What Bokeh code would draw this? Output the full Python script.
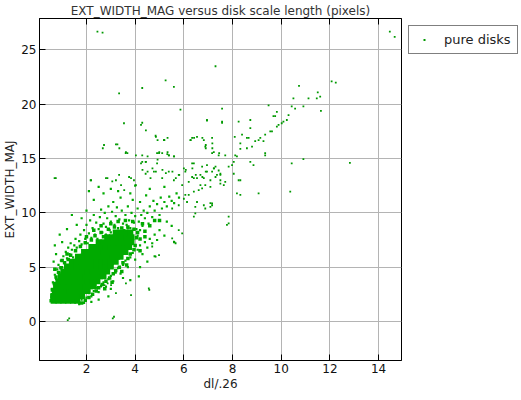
from bokeh.plotting import figure
from bokeh.models import Range1d, FixedTicker, LinearAxis, Legend, LegendItem, CustomJSTickFormatter
from bokeh.embed import file_html
from bokeh.resources import INLINE

GREEN = "#00aa00"

# dense core of the cloud
core_pts = [
    (0.65,1.9),(0.85,1.9),(1.05,1.9),(1.25,1.9),(1.45,1.9),(1.62,1.9),
    (0.65,2.35),(0.85,2.35),(1.05,2.35),(1.25,2.35),(1.45,2.35),(1.65,2.35),(1.82,2.35),
    (0.7,2.8),(0.9,2.8),(1.1,2.8),(1.3,2.8),(1.5,2.8),(1.7,2.8),(1.9,2.8),(2.05,2.8),
    (0.75,3.25),(0.95,3.25),(1.15,3.25),(1.35,3.25),(1.55,3.25),(1.75,3.25),(1.95,3.25),(2.15,3.25),(2.3,3.25),
    (0.85,3.7),(1.05,3.7),(1.25,3.7),(1.45,3.7),(1.65,3.7),(1.85,3.7),(2.05,3.7),(2.25,3.7),(2.45,3.7),
    (0.95,4.15),(1.15,4.15),(1.35,4.15),(1.55,4.15),(1.75,4.15),(1.95,4.15),(2.15,4.15),(2.35,4.15),(2.55,4.15),(2.7,4.15),
    (1.05,4.6),(1.25,4.6),(1.45,4.6),(1.65,4.6),(1.85,4.6),(2.05,4.6),(2.25,4.6),(2.45,4.6),(2.65,4.6),(2.85,4.6),
    (1.2,5.05),(1.4,5.05),(1.6,5.05),(1.8,5.05),(2.0,5.05),(2.2,5.05),(2.4,5.05),(2.6,5.05),(2.8,5.05),(3.0,5.05),
    (1.4,5.5),(1.6,5.5),(1.8,5.5),(2.0,5.5),(2.2,5.5),(2.4,5.5),(2.6,5.5),(2.8,5.5),(3.0,5.5),(3.2,5.5),
    (1.65,5.95),(1.85,5.95),(2.05,5.95),(2.25,5.95),(2.45,5.95),(2.65,5.95),(2.85,5.95),(3.05,5.95),(3.25,5.95),(3.4,5.95),
    (1.9,6.4),(2.1,6.4),(2.3,6.4),(2.5,6.4),(2.7,6.4),(2.9,6.4),(3.1,6.4),(3.3,6.4),(3.5,6.4),(3.6,6.4),
    (2.2,6.85),(2.4,6.85),(2.6,6.85),(2.8,6.85),(3.0,6.85),(3.2,6.85),(3.4,6.85),(3.6,6.85),(3.75,6.85),
    (2.5,7.3),(2.7,7.3),(2.9,7.3),(3.1,7.3),(3.3,7.3),(3.5,7.3),(3.7,7.3),(3.85,7.3),
    (2.85,7.75),(3.05,7.75),(3.25,7.75),(3.45,7.75),(3.65,7.75),(3.85,7.75),
    (3.2,8.2),(3.4,8.2),(3.6,8.2),(3.8,8.2),
]

# medium-density band along the edge of the core
mid_pts = [
    (0.6,2.9),(0.68,3.5),(0.75,4.1),(0.85,4.5),(0.95,4.95),(1.1,5.4),(1.25,5.7),(1.35,6.1),(1.55,6.5),
    (1.75,6.9),(1.95,7.25),(2.2,7.5),(2.35,7.9),(2.6,8.2),(2.9,8.5),(3.15,8.7),(3.45,8.6),(3.7,8.7),
    (3.95,8.5),(4.1,8.2),(4.05,7.7),(4.2,7.6),(4.0,7.0),(3.95,6.6),(3.8,6.2),(3.7,5.8),(3.5,5.4),(3.35,5.0),
    (3.2,4.7),(3.1,4.4),(2.95,4.0),(2.8,3.7),(2.65,3.4),(2.5,3.1),(2.4,2.8),(2.25,2.5),(2.1,2.2),(1.95,1.95),
    (1.8,1.7),(0.55,1.9),(0.58,2.4),(2.0,7.8),(2.3,8.4),(2.6,8.8),(3.0,9.0),(3.3,9.2),(3.6,9.3),(3.9,9.2),
    (4.3,9.0),(4.4,8.3),(4.6,8.8),(4.8,9.3),(5.0,9.3),(2.7,7.8),(0.7,4.8),(1.0,5.6),(1.2,6.2),(4.2,6.5),
    (4.4,7.8),(2.75,3.0),(3.05,3.6),(3.45,4.6),(3.65,5.2),
]

# looser fringe around the core
halo_pts = [
    (0.55,2.2),(0.58,3.0),(0.62,3.6),(0.7,4.3),(0.75,3.9),(0.8,4.8),(0.85,5.2),(0.9,4.5),(0.95,5.6),(1.0,5.0),
    (1.05,6.0),(1.1,5.4),(1.15,6.4),(1.2,5.8),(1.25,6.8),(1.3,6.2),(1.35,7.2),(1.4,6.6),(1.45,5.9),(1.5,7.0),
    (1.55,7.6),(1.6,6.8),(0.65,5.5),(0.75,6.2),(1.0,7.3),(0.9,8.0),(1.2,8.5),(0.7,7.0),
    (1.7,7.4),(1.75,8.0),(1.8,7.1),(1.9,8.4),(1.95,7.6),(2.0,8.9),(2.05,7.2),(2.1,8.1),(2.15,9.3),(2.2,7.7),
    (2.25,8.6),(2.3,9.8),(2.35,8.0),(2.4,9.1),(2.45,7.6),(2.5,8.5),(2.55,9.6),(2.6,10.3),(2.65,8.2),(2.7,9.0),
    (2.75,10.0),(2.8,8.7),(2.85,9.5),(2.9,10.6),(2.95,8.4),(3.0,9.2),(3.05,10.1),(3.1,11.0),(3.15,8.9),(3.2,9.7),
    (3.25,10.5),(3.3,8.6),(3.35,9.4),(3.4,11.4),(3.45,10.2),(3.5,9.0),(2.0,10.2),(1.8,9.5),(2.3,11.2),(2.7,11.8),
    (1.6,8.9),(1.4,9.8),(2.1,12.0),(2.5,12.4),(3.0,12.2),(3.3,12.0),
    (3.55,8.4),(3.6,9.8),(3.65,8.9),(3.7,10.6),(3.75,9.3),(3.8,8.6),(3.85,10.0),(3.9,11.2),(3.95,9.1),(4.0,9.7),
    (4.05,8.5),(4.1,10.4),(4.15,9.2),(4.2,11.0),(4.25,9.8),(4.3,8.8),(4.35,10.2),(4.4,9.5),(4.45,11.6),(4.5,10.0),
    (4.55,9.0),(4.6,10.6),(4.7,9.6),(4.75,11.1),(4.8,10.2),(4.9,10.8),(5.0,9.8),(5.05,11.4),(5.1,10.4),(5.2,11.0),
    (5.3,10.6),(5.4,11.5),(5.5,11.1),(5.6,10.9),(5.7,11.8),(5.8,11.4),(4.0,12.5),(4.6,12.2),(5.2,12.4),(3.8,11.8),
    (1.7,1.6),(1.8,2.0),(1.9,1.7),(2.0,2.2),(2.1,2.6),(2.2,2.3),(2.3,2.8),(2.4,3.1),(2.5,2.7),(2.6,3.3),
    (2.7,3.6),(2.8,3.2),(2.9,3.9),(3.0,4.2),(3.1,3.7),(3.2,4.5),(3.3,4.9),(3.4,4.4),(3.5,5.2),(3.6,5.6),
    (3.7,5.0),(3.8,5.9),(3.9,6.3),(4.0,5.7),(4.1,6.6),(4.2,7.0),(4.3,6.2),(4.4,7.3),(4.5,6.8),(4.6,7.6),
    (4.7,7.2),(4.8,8.0),(4.9,7.5),(5.0,8.4),(2.5,2.0),(3.0,3.0),(3.5,4.0),(4.2,5.0),(4.8,6.0),(2.2,1.8),
    (5.2,7.9),(5.5,8.8),(5.3,9.2),(3.8,3.8),(4.5,5.5),(2.9,2.3),(5.6,7.3),(4.15,4.15),
    (3.0,8.2),(3.3,8.0),(3.6,7.8),(3.9,7.4),(4.1,7.9),(4.2,8.4),(3.7,8.6),(2.8,8.0),(2.5,7.4),
]

# isolated points and the thin upper trail
sparse_pts = [
    (2.45,26.7),(2.66,26.6),(7.3,23.5),(5.25,22.2),(5.59,21.6),(4.29,21.5),(3.34,21.0),(5.86,19.5),(7.57,19.6),
    (3.54,18.25),(4.29,18.3),(6.95,18.5),(7.57,18.3),(2.72,16.25),(3.27,16.3),(4.84,17.1),(5.2,16.7),(6.27,16.7),
    (6.9,16.25),(3.68,15.5),(4.29,15.3),(5.11,15.5),(5.39,15.3),(7.16,15.5),(7.45,15.5),(0.74,13.2),(2.17,13.0),
    (2.86,13.2),(3.06,12.9),(4.29,14.7),(8.32,13.0),(8.73,14.7),(8.25,18.4),(8.73,18.55),(8.39,17.2),(8.66,16.9),
    (8.93,16.6),(8.11,15.3),(7.98,14.4),
    (14.46,26.7),(14.66,26.2),(12.07,22.1),(12.24,22.0),(10.73,21.7),(11.5,21.1),(11.6,20.7),(11.46,20.55),
    (10.5,20.55),(11.12,20.55),(10.43,19.8),(10.57,19.6),(10.91,19.8),(11.63,19.4),(9.75,18.9),(10.23,18.55),
    (10.02,18.25),(9.82,17.95),(9.62,17.5),(9.34,17.2),(9.27,16.6),(9.34,15.5),(10.43,14.55),(10.91,14.95),
    (12.82,14.6),(10.37,11.95),
    (10.3,19.0),(10.09,18.4),(9.89,18.1),(9.68,18.9),(9.82,19.3),(9.48,19.9),(9.55,17.5),(9.07,16.7),(8.8,16.1),
    (8.18,15.2),(8.05,14.7),(7.84,14.25),(8.73,17.8),(8.59,16.9),(8.32,16.4),(9.14,16.9),(8.09,17.0),(8.32,15.9),
    (8.59,15.95),(9.34,15.3),(8.86,14.4),(9.07,11.8),(8.32,11.65),(8.18,11.8),(6.95,18.55),(7.57,18.4),
    (5.18,16.7),(6.34,16.9),(6.54,17.0),(6.82,16.7),(7.16,16.9),(6.88,16.1),(7.23,15.6),(7.43,15.3),(7.7,15.3),
    (4.9,15.5),(5.38,15.3),(5.59,15.2),(8.05,13.6),(8.25,13.0),(7.43,13.9),(7.5,13.6),(7.36,13.5),(7.23,14.1),
    (7.3,13.3),(7.64,12.55),(7.5,12.7),(6.95,14.4),(7.16,13.8),(6.82,13.2),(6.88,12.55),(7.09,12.4),(6.41,14.55),
    (6.0,14.1),(6.06,13.8),(6.34,13.3),(6.54,13.2),(6.68,12.55),(6.75,12.25),(6.54,11.0),(6.47,10.55),(6.13,11.0),
    (6.06,11.65),(6.2,11.65),(7.09,10.9),(7.16,10.7),
    (3.61,15.5),(4.98,15.5),(5.32,15.4),(4.43,14.7),(4.9,14.55),(6.34,14.55),(6.75,14.25),(6.95,13.8),(7.3,14.25),
    (7.5,13.5),(7.09,13.0),(7.5,13.0),(7.7,12.85),(3.34,13.5),(3.75,13.3),(3.95,13.0),(4.43,13.6),(4.63,13.2),
    (4.77,13.8),(5.11,13.2),(5.38,13.8),(5.59,13.0),(5.79,13.5),(5.93,12.55),(6.2,12.85),(6.41,13.2),(6.68,13.5),
    (5.52,10.4),(5.79,10.7),(6.0,11.3),(6.41,11.95),(6.61,12.1),(5.52,7.65),(5.66,7.2),(4.98,6.1),(4.7,6.9),
    (6.82,10.7),(7.09,10.55),(6.47,9.95),(7.84,9.65),(7.77,8.9),(5.79,8.4),(5.93,8.1),
    (4.24,18.1),(4.44,17.6),(4.85,17.0),(4.92,16.7),(5.19,16.7),(5.33,16.9),(6.42,16.9),(6.28,16.7),(6.76,16.9),
    (7.17,16.4),(7.17,15.95),(6.9,15.95),(2.67,15.95),(3.21,16.3),(3.35,15.95),(3.62,15.6),(4.03,15.3),(4.51,15.2),
    (4.99,15.6),(5.33,15.6),(5.6,15.2),(4.92,14.9),(0.69,13.2),(2.19,13.0),(2.8,13.2),(3.21,13.0),(3.42,12.55),
    (3.55,12.1),(3.83,13.2),(4.03,12.55),(4.24,14.55),(4.44,14.7),(4.3,13.95),(4.51,13.8),(4.71,14.1),(4.85,13.8),
    (5.12,13.95),(5.26,13.65),(5.53,13.8),(5.67,13.2),(5.81,13.5),(6.08,13.95),(6.35,14.1),(6.49,13.5),(6.76,13.3),
    (6.9,13.8),(7.24,14.1),
    (1.23,0.12),(3.08,0.28),(3.83,2.42),(4.58,2.9),(3.21,2.6),(2.74,3.35),(2.87,3.5),(3.01,3.35),(2.6,3.2),
    (3.62,3.5),(4.56,3.04),(4.84,5.96),(5.59,7.35),(7.84,9.03),(3.13,0.43),(1.29,0.28),(6.41,9.65),(7.16,10.88),
    (6.88,10.4),
]

series_label = "pure disks"
x_ticks = [2, 4, 6, 8, 10, 12, 14]
y_ticks = [0, 5, 10, 15, 20, 25]

p = figure(frame_width=362, frame_height=342, output_backend="svg", toolbar_location=None,
           x_range=Range1d(0.07, 14.94), y_range=Range1d(-3.6, 27.9),
           min_border_left=0, min_border_right=0, min_border_top=0, min_border_bottom=0)

p.title.text = "EXT_WIDTH_MAG versus disk scale length (pixels)"
p.title.align = "center"
p.title.text_font = "DejaVu Sans"
p.title.text_font_size = "12px"
p.title.text_font_style = "normal"
p.title.text_color = "#333333"
p.title.standoff = 2
p.title.offset = 0

p.scatter([q[0] for q in core_pts], [q[1] for q in core_pts], marker="square",
          size=6, fill_color=GREEN, line_color=None)
p.scatter([q[0] for q in mid_pts], [q[1] for q in mid_pts], marker="square",
          size=3.5, fill_color=GREEN, line_color=None)
p.scatter([q[0] for q in halo_pts], [q[1] for q in halo_pts], marker="square",
          size=2.2, fill_color=GREEN, line_color=None)
sp_r = p.scatter([q[0] for q in sparse_pts], [q[1] for q in sparse_pts], marker="square",
                 size=1.8, fill_color="#009900", line_color=None)

for ax in (p.xaxis[0], p.yaxis[0]):
    ax.major_tick_in = 6
    ax.major_tick_out = 0
    ax.minor_tick_in = 0
    ax.minor_tick_out = 0
    ax.axis_line_color = "black"
    ax.major_tick_line_color = "black"
    ax.major_label_text_font = "DejaVu Sans"
    ax.major_label_text_font_size = "12px"
    ax.major_label_text_color = "#111111"
    ax.axis_label_text_font = "DejaVu Sans"
    ax.axis_label_text_font_size = "12px"
    ax.axis_label_text_font_style = "normal"
    ax.axis_label_text_color = "#222222"
    ax.axis_label_standoff = 1

p.xaxis[0].ticker = FixedTicker(ticks=x_ticks)
p.yaxis[0].ticker = FixedTicker(ticks=y_ticks)
p.xaxis[0].axis_label = "dl/.26"
p.yaxis[0].axis_label = "EXT_WIDTH_MAJ"
p.yaxis[0].major_label_standoff = 3
p.xaxis[0].major_label_standoff = 3

blank = CustomJSTickFormatter(code="return '';")
top_axis = LinearAxis(ticker=FixedTicker(ticks=x_ticks), formatter=blank,
                      major_tick_in=6, major_tick_out=0, minor_tick_in=0, minor_tick_out=0,
                      axis_line_color="black", major_tick_line_color="black",
                      major_label_standoff=0)
p.add_layout(top_axis, "above")

p.xgrid.ticker = FixedTicker(ticks=x_ticks)
p.ygrid.ticker = FixedTicker(ticks=y_ticks)
p.grid.grid_line_color = "#b4b4b4"
p.grid.grid_line_width = 1
p.outline_line_color = "black"

legend = Legend(items=[LegendItem(label=series_label, renderers=[sp_r])],
                location="top_left", border_line_color="black", border_line_width=1,
                label_text_font="DejaVu Sans", label_text_font_size="13px",
                label_text_color="#222222", glyph_width=18, glyph_height=5,
                padding=6, spacing=0, margin=7, label_standoff=11)
p.add_layout(legend, "right")

open("out.html", "w").write(file_html(p, INLINE))
